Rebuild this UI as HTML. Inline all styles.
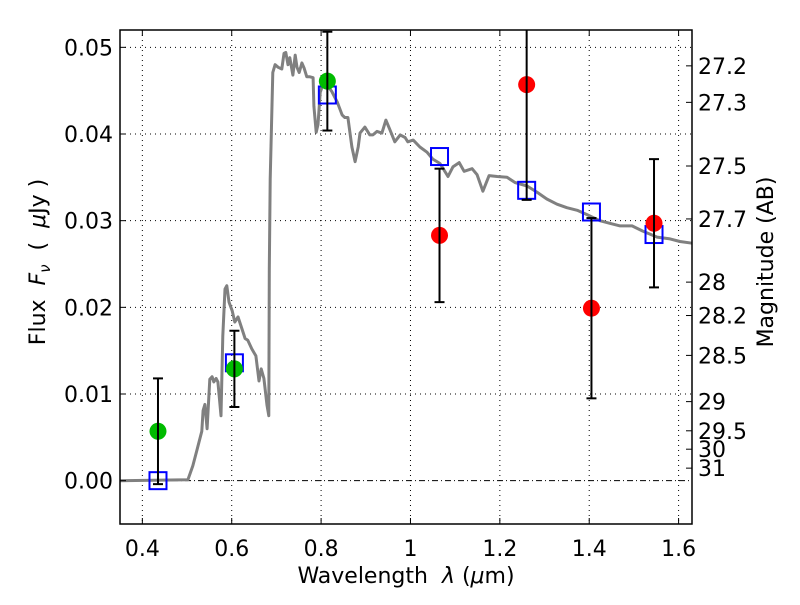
<!DOCTYPE html>
<html><head><meta charset="utf-8"><style>
body{margin:0;background:#fff;}
svg text{font-family:"DejaVu Sans","Liberation Sans",sans-serif;fill:#000;}
</style></head><body>
<svg id="chart" width="800" height="600" xmlns="http://www.w3.org/2000/svg">
<rect width="800" height="600" fill="#fff"/>
<g id="grid"></g>
<g id="plot"></g>
<rect x="120" y="30" width="572" height="494" fill="none" stroke="#000" stroke-width="1.5"/>
<g id="ticks"></g>
<text x="406" y="583" font-size="22" text-anchor="middle">Wavelength&#160;&#160;<tspan font-style="italic">λ</tspan> (<tspan font-style="italic">μ</tspan>m)</text>
<text transform="translate(45,262) rotate(-90)" font-size="22" text-anchor="middle">Flux&#160;&#160;<tspan font-style="italic">F</tspan><tspan font-style="italic" font-size="15" dy="5">ν</tspan><tspan dy="-5">&#160;&#160;(&#160;&#160;</tspan><tspan font-style="italic">μ</tspan>Jy )</text>
<text transform="translate(773,262) rotate(-90)" font-size="22" text-anchor="middle">Magnitude (AB)</text>
</svg>
<script>
const specX=[0.350,0.502,0.513,0.522,0.533,0.536,0.540,0.545,0.551,0.556,0.560,0.565,0.569,0.576,0.580,0.585,0.589,0.594,0.601,0.607,0.614,0.623,0.630,0.636,0.645,0.654,0.661,0.666,0.672,0.679,0.683,0.684,0.686,0.692,0.697,0.704,0.712,0.717,0.721,0.726,0.730,0.737,0.742,0.746,0.751,0.757,0.762,0.768,0.775,0.782,0.784,0.789,0.793,0.798,0.804,0.813,0.824,0.836,0.847,0.853,0.860,0.869,0.876,0.883,0.887,0.898,0.909,0.916,0.925,0.936,0.945,0.954,0.965,0.977,0.988,0.994,1.006,1.021,1.037,1.050,1.066,1.084,1.095,1.109,1.120,1.138,1.149,1.162,1.176,1.194,1.216,1.234,1.261,1.283,1.305,1.328,1.350,1.373,1.395,1.424,1.446,1.469,1.496,1.520,1.552,1.581,1.603,1.630];
const specY=[0.0000,0.0001,0.0017,0.0035,0.0057,0.0081,0.0088,0.0060,0.0117,0.0120,0.0114,0.0118,0.0114,0.0075,0.0167,0.0221,0.0225,0.0206,0.0196,0.0183,0.0189,0.0175,0.0164,0.0162,0.0152,0.0144,0.0115,0.0129,0.0118,0.0087,0.0075,0.0244,0.0348,0.0471,0.0480,0.0477,0.0475,0.0493,0.0494,0.0480,0.0488,0.0468,0.0491,0.0477,0.0471,0.0482,0.0476,0.0466,0.0466,0.0465,0.0432,0.0402,0.0411,0.0448,0.0457,0.0457,0.0449,0.0437,0.0422,0.0419,0.0419,0.0385,0.0368,0.0385,0.0401,0.0408,0.0399,0.0399,0.0403,0.0401,0.0416,0.0405,0.0391,0.0399,0.0396,0.0391,0.0393,0.0385,0.0379,0.0371,0.0366,0.0351,0.0362,0.0367,0.0357,0.0360,0.0353,0.0334,0.0352,0.0351,0.0350,0.0344,0.0340,0.0333,0.0325,0.0319,0.0315,0.0312,0.0307,0.0300,0.0297,0.0294,0.0294,0.0288,0.0281,0.0279,0.0276,0.0274];
const modelX=[0.435,0.606,0.814,1.065,1.260,1.405,1.545];
const modelY=[0.0000,0.0136,0.0445,0.0374,0.0335,0.0310,0.0284];
const detX=[0.435,0.606,0.814];
const detY=[0.0057,0.0129,0.0461];
const detErr=[0.0061,0.0044,0.0057];
const upX=[1.065,1.260,1.405,1.545];
const upY=[0.0283,0.0457,0.0199,0.0297];
const upErr=[0.0077,0.0133,0.0104,0.0074];
const xTicks=[0.4,0.6,0.8,1.0,1.2,1.4,1.6];
const xTickLabels=["0.4","0.6","0.8","1","1.2","1.4","1.6"];
const yTicks=[0,0.01,0.02,0.03,0.04,0.05];
const yTickLabels=["0.00","0.01","0.02","0.03","0.04","0.05"];
const magTicks=[27.2,27.3,27.5,27.7,28,28.2,28.5,29,29.5,30,31];

const L=120,R=692,T=30,B=524,X0=0.35,X1=1.63,Y0=-0.005,Y1=0.052;
const sx=v=>L+(v-X0)/(X1-X0)*(R-L);
const sy=v=>B-(v-Y0)/(Y1-Y0)*(B-T);
const NS="http://www.w3.org/2000/svg";
function mk(tag,attrs,parent){const e=document.createElementNS(NS,tag);for(const k in attrs)e.setAttribute(k,attrs[k]);parent.appendChild(e);return e;}
const grid=document.getElementById('grid'),plot=document.getElementById('plot'),ticks=document.getElementById('ticks');

xTicks.forEach((v,i)=>{
  const g=mk('line',{x1:sx(v),x2:sx(v),y1:T,y2:B,stroke:'#000','stroke-width':1,'stroke-dasharray':'1,4'},grid);
  
  
  mk('line',{x1:sx(v),x2:sx(v),y1:B,y2:B-6,stroke:'#000'},ticks);
  mk('line',{x1:sx(v),x2:sx(v),y1:T,y2:T+6,stroke:'#000'},ticks);
  const t=mk('text',{x:sx(v),y:B+32,'font-size':22,'text-anchor':'middle'},ticks);
  t.textContent=xTickLabels[i];
  
  
});
yTicks.forEach((v,i)=>{
  const g=mk('line',{x1:L,x2:R,y1:sy(v),y2:sy(v),stroke:'#000','stroke-width':1,'stroke-dasharray':v===0?'6,3,1,3':'1,4'},grid);
  
  
  mk('line',{x1:L,x2:L+6,y1:sy(v),y2:sy(v),stroke:'#000'},ticks);
  const t=mk('text',{x:113,y:sy(v)+8,'font-size':22,'text-anchor':'end'},ticks);
  t.textContent=yTickLabels[i];
  
  
});
magTicks.forEach(m=>{
  const f=Math.pow(10,(23.9-m)/2.5);
  const y=sy(f);
  mk('line',{x1:R,x2:R-6,y1:y,y2:y,stroke:'#000'},ticks);
  const t=mk('text',{x:698,y:y+8,'font-size':22},ticks);
  t.textContent=String(m);
  
  
});

const pts=specX.map((x,i)=>sx(x).toFixed(1)+','+sy(specY[i]).toFixed(1)).join(' ');
const sp=mk('polyline',{points:pts,fill:'none',stroke:'#808080','stroke-width':3,'stroke-linejoin':'round'},plot);



modelX.forEach((x,i)=>{
  const s=mk('rect',{x:sx(x)-8.5,y:sy(modelY[i])-8.5,width:17,height:17,fill:'none',stroke:'#0000ff','stroke-width':2},plot);
  
  
});
function pointsWithErr(xs,ys,es,color,name){
  xs.forEach((x,i)=>{
    const c=mk('circle',{cx:sx(x),cy:sy(ys[i]),r:8.5,fill:color},plot);
    
    
  });
  xs.forEach((x,i)=>{
    const px=sx(x),yt=Math.max(sy(ys[i]+es[i]),T),yb=sy(ys[i]-es[i]);
    const g=mk('g',{stroke:'#000','stroke-width':2},plot);
    
    
    mk('line',{x1:px,x2:px,y1:yt,y2:yb},g);
    if(sy(ys[i]+es[i])>=T) mk('line',{x1:px-5,x2:px+5,y1:yt,y2:yt},g);
    mk('line',{x1:px-5,x2:px+5,y1:yb,y2:yb},g);
  });
}
pointsWithErr(detX,detY,detErr,'#00bb00','observed-flux-green');
pointsWithErr(upX,upY,upErr,'#ff0000','observed-flux-red');
</script>
</body></html>
